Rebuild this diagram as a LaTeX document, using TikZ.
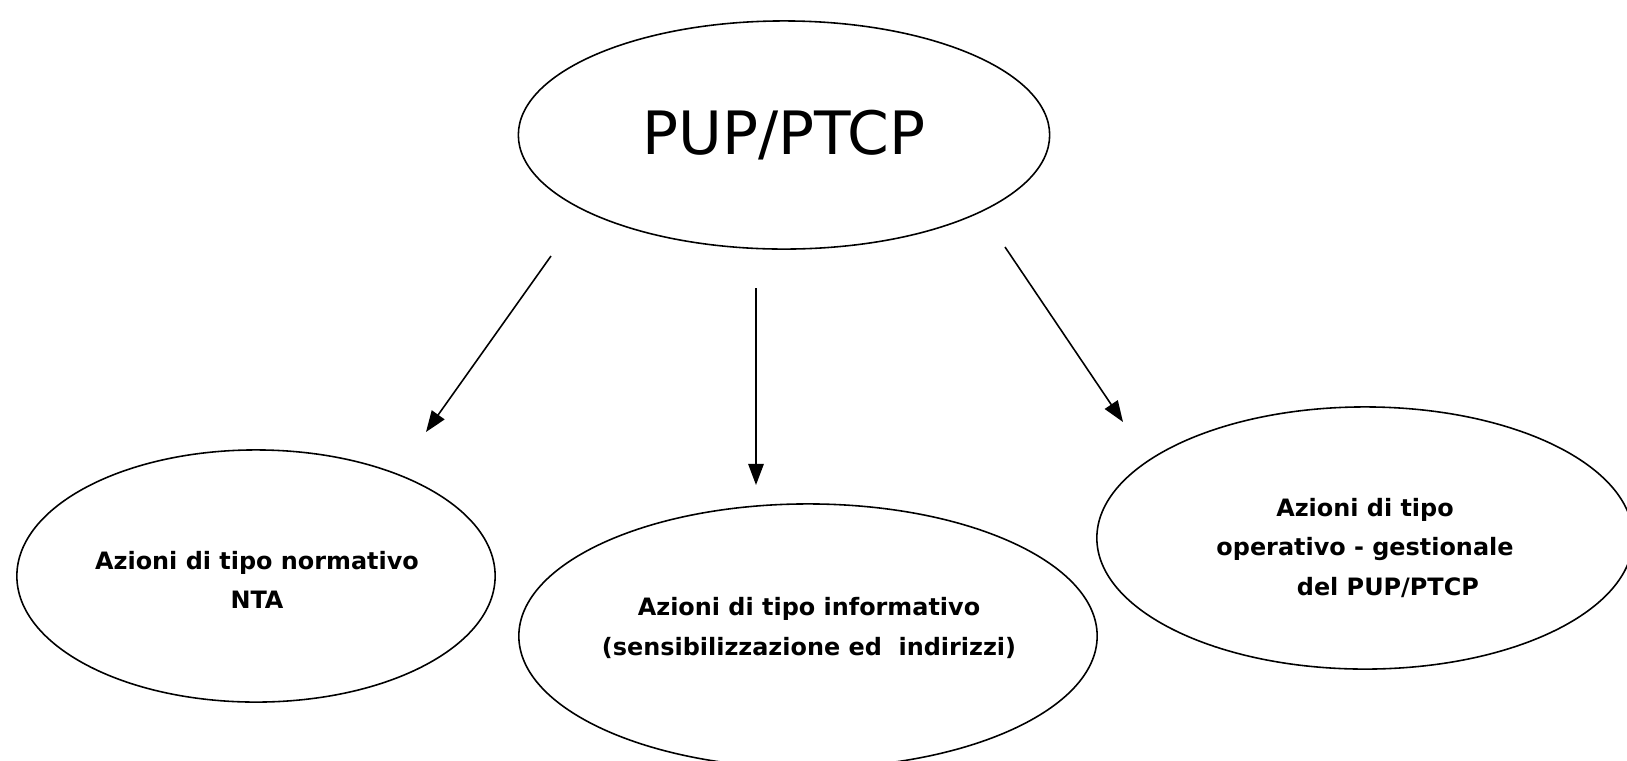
\documentclass[tikz,border=0pt]{standalone}
\usepackage{fontspec}
\setmainfont{DejaVu Sans}
\usetikzlibrary{arrows.meta,shapes.geometric}
\begin{document}
\begin{tikzpicture}[x=0.01cm,y=-0.01cm,
    oval/.style={draw,ellipse,inner sep=0pt,line width=0.45pt},
    azione/.style={font=\fontsize{6.8}{11.2}\selectfont\bfseries,align=center},
    freccia/.style={-{Triangle[length=6pt,width=4.4pt]},line width=0.45pt}]
\useasboundingbox (0,0) rectangle (1627,760);
%\draw (0,0) rectangle (1627,760);
    \node[oval,minimum width=5.31cm,minimum height=2.28cm] (pup) at (784,135) {};
    \node[font=\fontsize{17}{20}\selectfont] (pupT) at (pup) {PUP/PTCP};
    \node[oval,minimum width=4.78cm,minimum height=2.52cm] (norm) at (256,576) {};
    \node[azione] (normT) at (257,580) {Azioni di tipo normativo\\NTA};
    \node[oval,minimum width=5.78cm,minimum height=2.64cm] (info) at (808,636) {};
    \node[azione] (infoT) at (809,628) {Azioni di tipo informativo\\(sensibilizzazione ed\ \ indirizzi)};
    \node[oval,minimum width=5.36cm,minimum height=2.62cm] (oper) at (1365,538) {};
    \node[azione] (operT) at (1365,548) {Azioni di tipo\\operativo - gestionale\\\hspace*{13pt}del PUP/PTCP};
%arrows
    \coordinate (n1) at (551,256); \coordinate (n2) at (426,432);
    \coordinate (i1) at (756,288); \coordinate (i2) at (756,485);
    \coordinate (o1) at (1005,247); \coordinate (o2) at (1123,422);
    \draw[freccia] (n1) -- (n2);
    \draw[freccia] (i1) -- (i2);
    \draw[freccia] (o1) -- (o2);
\end{tikzpicture}
\end{document}
